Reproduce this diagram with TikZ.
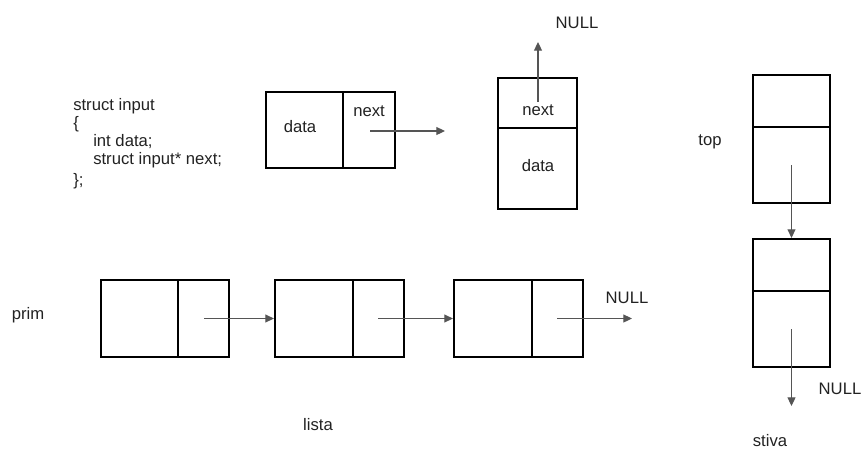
\documentclass[tikz,border=0pt]{standalone}
\usepackage{fontspec}
\setmainfont{Liberation Sans}
\usetikzlibrary{arrows.meta,fit}
\definecolor{arrowgray}{HTML}{555555}
\definecolor{txt}{HTML}{222222}
\tikzset{
  cell/.style={draw=black, line width=1.6pt, inner sep=0pt, fit={#1}},
  lbl/.style={text=txt, font=\fontsize{12.5}{13.5}\selectfont, inner sep=0pt},
  ptr/.style={draw=arrowgray, line width=0.8pt, -{Triangle[length=6.5pt,width=6pt]}, arrowgray},
}
\begin{document}
\begin{tikzpicture}[x=0.75pt, y=-0.75pt]
\useasboundingbox (0,0) rectangle (863,451);

% struct declaration
\node[lbl, anchor=north west, align=left] (code) at (73,98)
  {struct input\\ \{\\ \hspace*{15pt}int data;\\ \hspace*{15pt}struct input* next;\\[2pt] \};};

% horizontal node: data | next
\node[cell={(266,92)(343,168)}] (hd) {};
\node[cell={(343,92)(395,168)}] (hn) {};
\node[lbl] (hdl) at (300,127) {data};
\node[lbl] (hnl) at (369,111) {next};
\coordinate (hs) at (370,131);
\coordinate (he) at (445,131);
\draw[ptr] (hs) -- (he);

% vertical node: next over data
\node[cell={(498,78)(577,128)}] (vn) {};
\node[cell={(498,128)(577,209)}] (vd) {};
\node[lbl] (vnl) at (538,110) {next};
\node[lbl] (vdl) at (538,166) {data};
\node[lbl] (vnull) at (577,23) {NULL};
\coordinate (vs) at (538,102);
\coordinate (ve) at (538,42);
\draw[ptr] (vs) -- (ve);

% linked list
\node[lbl] (prim) at (28,315) {prim};
\node[cell={(101,280)(178,357)}] (l1d) {};
\node[cell={(178,280)(229,357)}] (l1n) {};
\node[cell={(275,280)(353,357)}] (l2d) {};
\node[cell={(353,280)(404,357)}] (l2n) {};
\node[cell={(454,280)(532,357)}] (l3d) {};
\node[cell={(532,280)(583,357)}] (l3n) {};
\coordinate (l1p) at (204,318.5);
\coordinate (l2p) at (378,318.5);
\coordinate (l3p) at (557,318.5);
\coordinate (lend) at (632,318.5);
\draw[ptr] (l1p) -- (l2d.west);
\draw[ptr] (l2p) -- (l3d.west);
\draw[ptr] (l3p) -- (lend);
\node[lbl] (lnull) at (627,298) {NULL};
\node[lbl] (lista) at (318,425) {lista};

% stack
\node[lbl] (top) at (710,142) {top};
\node[cell={(753,75)(830,127)}] (s1a) {};
\node[cell={(753,127)(830,203)}] (s1b) {};
\node[cell={(753,239)(830,291)}] (s2a) {};
\node[cell={(753,291)(830,367)}] (s2b) {};
\coordinate (s1p) at (791.5,165);
\coordinate (s2p) at (791.5,329);
\coordinate (send) at (791.5,406);
\draw[ptr] (s1p) -- (s2a.north);
\draw[ptr] (s2p) -- (send);
\node[lbl] (snull) at (840,389) {NULL};
\node[lbl] (stiva) at (770,441) {stiva};
\end{tikzpicture}
\end{document}
